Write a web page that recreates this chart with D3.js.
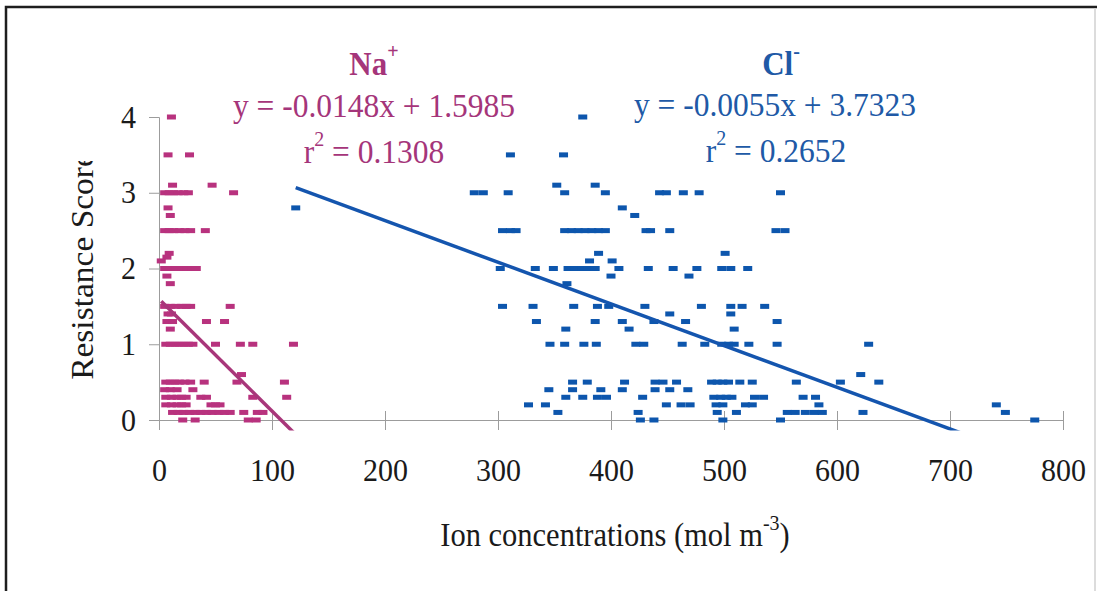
<!DOCTYPE html>
<html>
<head>
<meta charset="utf-8">
<script src="https://cdn.jsdelivr.net/npm/d3@7"></script>
<style>
  body { margin: 0; background: #fff; }
  svg { display: block; font-family: "Liberation Serif", "Times New Roman", serif; }
</style>
</head>
<body>
<svg id="chart" width="1097" height="591"></svg>
<script>
// Na+ concentrations and resistance scores (one line per score level)
const naConc = [
  11,
  8, 27,
  12, 47,
  5, 9, 13, 17, 22, 26, 66,
  8,
  10,
  5, 9, 13, 18, 23, 28, 41,
  9, 7, 2,
  5, 10, 15, 20, 25, 29, 33,
  7, 10,
  5, 10, 15, 20, 24, 28, 63,
  8, 11,
  7, 12, 42, 58,
  10,
  6, 10, 14, 18, 22, 26, 30, 50, 72, 83, 119,
  73,
  6, 10, 14, 18, 23, 28, 40, 69, 111,
  5, 10, 16, 30,
  6, 11, 16, 20, 24, 37, 42, 83, 113,
  6, 11, 16, 20, 24, 46, 50, 54,
  12, 17, 22, 27, 32, 37, 42, 47, 53, 58, 63, 75, 87, 92,
  21, 32, 79, 86
];
const naScore = [
  4,
  3.5, 3.5,
  3.1, 3.1,
  3, 3, 3, 3, 3, 3, 3,
  2.8,
  2.7,
  2.5, 2.5, 2.5, 2.5, 2.5, 2.5, 2.5,
  2.2, 2.15, 2.1,
  2, 2, 2, 2, 2, 2, 2,
  1.9, 1.8,
  1.5, 1.5, 1.5, 1.5, 1.5, 1.5, 1.5,
  1.4, 1.4,
  1.3, 1.3, 1.3, 1.3,
  1.2,
  1, 1, 1, 1, 1, 1, 1, 1, 1, 1, 1,
  0.6,
  0.5, 0.5, 0.5, 0.5, 0.5, 0.5, 0.5, 0.5, 0.5,
  0.4, 0.4, 0.4, 0.4,
  0.3, 0.3, 0.3, 0.3, 0.3, 0.3, 0.3, 0.3, 0.3,
  0.2, 0.2, 0.2, 0.2, 0.2, 0.2, 0.2, 0.2,
  0.1, 0.1, 0.1, 0.1, 0.1, 0.1, 0.1, 0.1, 0.1, 0.1, 0.1, 0.1, 0.1, 0.1,
  0, 0, 0, 0
];

// Cl- concentrations and resistance scores
const clConc = [
  121,
  375,
  311, 358,
  352, 386,
  279, 287, 309, 359, 395, 443, 449, 464, 478, 550,
  410,
  421,
  304, 311, 316, 359, 365, 371, 377, 383, 389, 395, 431, 435, 452, 546, 554,
  389, 501,
  381, 401,
  302, 333, 349, 362, 368, 374, 380, 386, 407, 433, 455, 476, 498, 506, 521,
  400, 469,
  361,
  304, 331, 367, 388, 398, 430, 480, 506, 516, 536,
  452, 506,
  334, 386, 410, 438, 466, 547,
  360, 416, 509,
  346, 359, 376, 387, 422, 429, 463, 483, 498, 504, 509, 522, 547, 628,
  621,
  366, 379, 412, 439, 446, 458, 489, 494, 499, 504, 514, 525, 564, 603, 637,
  345, 366, 391, 410, 439, 452, 468,
  360, 375, 388, 396, 428, 491, 497, 502, 507, 527, 535, 570, 581,
  327, 342, 449, 462, 470, 493, 499, 519, 525, 584, 741,
  353, 424, 494, 511, 556, 563, 572, 580, 587, 623, 749,
  426, 438, 499, 550, 775
];
const clScore = [
  2.8,
  4,
  3.5, 3.5,
  3.1, 3.1,
  3, 3, 3, 3, 3, 3, 3, 3, 3, 3,
  2.8,
  2.7,
  2.5, 2.5, 2.5, 2.5, 2.5, 2.5, 2.5, 2.5, 2.5, 2.5, 2.5, 2.5, 2.5, 2.5, 2.5,
  2.2, 2.2,
  2.1, 2.1,
  2, 2, 2, 2, 2, 2, 2, 2, 2, 2, 2, 2, 2, 2, 2,
  1.9, 1.9,
  1.8,
  1.5, 1.5, 1.5, 1.5, 1.5, 1.5, 1.5, 1.5, 1.5, 1.5,
  1.4, 1.4,
  1.3, 1.3, 1.3, 1.3, 1.3, 1.3,
  1.2, 1.2, 1.2,
  1, 1, 1, 1, 1, 1, 1, 1, 1, 1, 1, 1, 1, 1,
  0.6,
  0.5, 0.5, 0.5, 0.5, 0.5, 0.5, 0.5, 0.5, 0.5, 0.5, 0.5, 0.5, 0.5, 0.5, 0.5,
  0.4, 0.4, 0.4, 0.4, 0.4, 0.4, 0.4,
  0.3, 0.3, 0.3, 0.3, 0.3, 0.3, 0.3, 0.3, 0.3, 0.3, 0.3, 0.3, 0.3,
  0.2, 0.2, 0.2, 0.2, 0.2, 0.2, 0.2, 0.2, 0.2, 0.2, 0.2,
  0.1, 0.1, 0.1, 0.1, 0.1, 0.1, 0.1, 0.1, 0.1, 0.1, 0.1,
  0, 0, 0, 0, 0
];

// fitted trendlines as printed on the chart
const naSlope = -0.0148, naIntercept = 1.5985, naR2 = '0.1308';
const clSlope = -0.0055, clIntercept = 3.7323, clR2 = '0.2652';

const xTicks = [0, 100, 200, 300, 400, 500, 600, 700, 800];
const yTicks = [0, 1, 2, 3, 4];

if (naConc.length !== naScore.length || clConc.length !== clScore.length) {
  throw new Error('length mismatch ' + naConc.length + '/' + naScore.length + ' ' + clConc.length + '/' + clScore.length);
}

const naColor = '#b8327e', naLine = '#a8367a', naText = '#a5357a';
const clColor = '#0d56ad', clLine = '#1455ae', clText = '#2059a6';
const axisColor = '#9c9c9c';
const stretch = 'scale(1,1.08)';

const svg = d3.select('#chart');
const x = d3.scaleLinear().domain([0, 800]).range([159, 1063]);
const y = d3.scaleLinear().domain([0, 4]).range([420, 117]);

svg.append('rect').attr('width', 1097).attr('height', 591).attr('fill', '#fff');

// frame
svg.append('path').attr('d', 'M6,591 V7 H1097').attr('fill', 'none')
  .attr('stroke', '#1e1e1e').attr('stroke-width', 2.5);
svg.append('line').attr('x1', 1095).attr('x2', 1095).attr('y1', 8).attr('y2', 591)
  .attr('stroke', '#d0d0d0').attr('stroke-width', 1.5);

// x axis
const xAxis = svg.append('g').attr('transform', 'translate(0,420)')
  .call(d3.axisBottom(x).tickValues(xTicks).tickFormat(d3.format('d')).tickSizeOuter(0).tickSize(10));
xAxis.select('.domain').attr('stroke', axisColor);
xAxis.selectAll('.tick line').attr('stroke', axisColor).attr('y1', -9).attr('y2', 10);
xAxis.selectAll('.tick text')
  .attr('y', null).attr('dy', null)
  .attr('transform', 'translate(0,61) ' + stretch)
  .attr('font-size', 30).attr('font-family', 'Liberation Serif, Times New Roman, serif')
  .attr('fill', '#1a1a1a');

// y axis
const yAxis = svg.append('g').attr('transform', 'translate(159,0)')
  .call(d3.axisLeft(y).tickValues(yTicks).tickFormat(d3.format('d')).tickSizeOuter(0).tickSize(10).tickPadding(13));
yAxis.select('.domain').attr('stroke', axisColor);
yAxis.selectAll('.tick line').attr('stroke', axisColor);
yAxis.selectAll('.tick text')
  .attr('dy', null)
  .attr('transform', 'translate(0,10) ' + stretch)
  .attr('font-size', 30).attr('font-family', 'Liberation Serif, Times New Roman, serif')
  .attr('fill', '#1a1a1a');

// markers
svg.append('g').selectAll('rect')
  .data(d3.range(naConc.length))
  .join('rect')
  .attr('x', i => x(naConc[i]) - 4.5)
  .attr('y', i => y(naScore[i]) - 2.5)
  .attr('width', 9).attr('height', 5)
  .attr('fill', naColor);

svg.append('g').selectAll('rect')
  .data(d3.range(clConc.length))
  .join('rect')
  .attr('x', i => x(clConc[i]) - 4.5)
  .attr('y', i => y(clScore[i]) - 2.5)
  .attr('width', 9).attr('height', 5)
  .attr('fill', clColor);

// trendlines, cut a little below the x axis
svg.append('clipPath').attr('id', 'plotClip')
  .append('rect').attr('x', 0).attr('y', 0).attr('width', 1097).attr('height', y(-0.14));

const fitLine = d3.line().x(d => x(d[0])).y(d => y(d[1]));
function trend(conc, slope, intercept) {
  const lo = d3.min(conc), hi = d3.max(conc);
  return [[lo, slope * lo + intercept], [hi, slope * hi + intercept]];
}
const lines = svg.append('g').attr('clip-path', 'url(#plotClip)');
lines.append('path').attr('d', fitLine(trend(naConc, naSlope, naIntercept)))
  .attr('stroke', naLine).attr('stroke-width', 3.5).attr('fill', 'none');
lines.append('path').attr('d', fitLine(trend(clConc, clSlope, clIntercept)))
  .attr('stroke', clLine).attr('stroke-width', 3.5).attr('fill', 'none');

// text helpers
function label(px, py, size, color, weight) {
  return svg.append('text')
    .attr('transform', 'translate(' + px + ',' + py + ') ' + stretch)
    .attr('text-anchor', 'middle')
    .attr('font-size', size)
    .attr('font-weight', weight || 'normal')
    .attr('fill', color);
}
function eqText(slope, intercept) {
  return 'y = ' + slope.toFixed(4) + 'x + ' + intercept.toFixed(4);
}

// Na+ annotations
const naHead = label(374, 75, 31, naText, 'bold');
naHead.append('tspan').text('Na');
naHead.append('tspan').attr('font-size', 20).attr('dy', -16).text('+');
label(374, 117, 31.5, naText).text(eqText(naSlope, naIntercept));
const naR = label(374, 163, 31.5, naText);
naR.append('tspan').text('r');
naR.append('tspan').attr('font-size', 20).attr('dy', -16).text('2');
naR.append('tspan').attr('dy', 16).text(' = ' + naR2);

// Cl- annotations
const clHead = label(781, 75, 31, clText, 'bold');
clHead.append('tspan').text('Cl');
clHead.append('tspan').attr('font-size', 20).attr('dy', -16).text('-');
label(775, 116, 31.5, clText).text(eqText(clSlope, clIntercept));
const clR = label(776, 162, 31.5, clText);
clR.append('tspan').text('r');
clR.append('tspan').attr('font-size', 20).attr('dy', -16).text('2');
clR.append('tspan').attr('dy', 16).text(' = ' + clR2);

// axis titles
const xTitle = label(615, 546, 30.5, '#1a1a1a');
xTitle.append('tspan').text('Ion concentrations (mol m');
xTitle.append('tspan').attr('font-size', 20).attr('dy', -15).text('-3');
xTitle.append('tspan').attr('dy', 15).text(')');

svg.append('clipPath').attr('id', 'titleClip')
  .append('rect').attr('x', 0).attr('y', 161).attr('width', 200).attr('height', 430);
svg.append('g').attr('clip-path', 'url(#titleClip)')
  .append('text')
  .attr('transform', 'translate(93,266) rotate(-90) scale(1.08,1)')
  .attr('text-anchor', 'middle')
  .attr('font-size', 31)
  .attr('fill', '#1a1a1a')
  .text('Resistance Score');
</script>
</body>
</html>
